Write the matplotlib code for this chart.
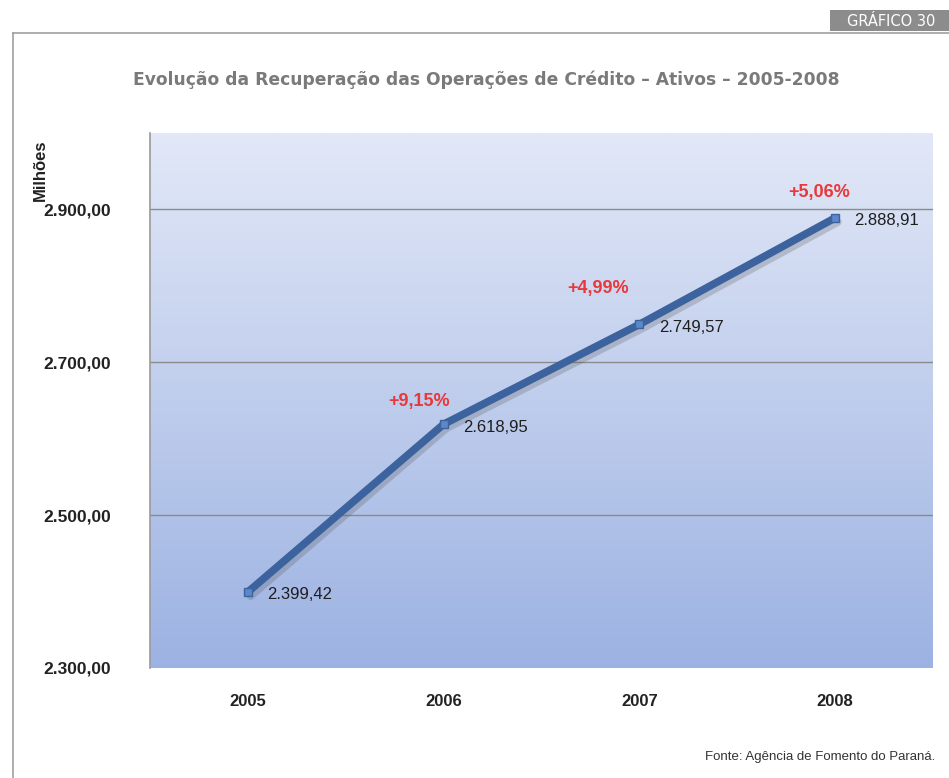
import numpy as np
import matplotlib.pyplot as plt
import matplotlib.patheffects as pe
from matplotlib.colors import LinearSegmentedColormap
from matplotlib.lines import Line2D
from matplotlib.patches import Rectangle

anos = ["2005", "2006", "2007", "2008"]
valores = [2399.42, 2618.95, 2749.57, 2888.91]
rotulos = ["2.399,42", "2.618,95", "2.749,57", "2.888,91"]
variacao = ["", "+9,15%", "+4,99%", "+5,06%"]
yticks = [2300, 2500, 2700, 2900]
ytick_labels = ["2.300,00", "2.500,00", "2.700,00", "2.900,00"]

# deslocamento (px) dos rótulos de variação em relação ao ponto
desloc_var = [(0, 0), (-25, 23), (-41, 36), (-16, 25)]

W, H = 949, 778
fig = plt.figure(figsize=(W / 100, H / 100), dpi=100)

# moldura externa
fig.add_artist(Line2D([13 / W, 1], [1 - 33 / H, 1 - 33 / H], color="#a0a0a0", lw=1.2))
fig.add_artist(Line2D([13 / W, 13 / W], [0, 1 - 33 / H], color="#a0a0a0", lw=1.2))
fig.add_artist(Rectangle((830 / W, 1 - 31 / H), (W - 830) / W, 21 / H,
                         transform=fig.transFigure, fc="#8c8c8c", ec="none"))
fig.text(891 / W, 1 - 21 / H, "GRÁFICO 30", ha="center", va="center", color="white",
         fontsize=10.5, family="DejaVu Sans")

fig.text(486 / W, 1 - 80 / H, "Evolução da Recuperação das Operações de Crédito – Ativos – 2005-2008",
         ha="center", va="center", fontsize=12.3, fontweight="bold", color="#7a7a7a")

ax = fig.add_axes([150 / W, 1 - 668 / H, (933 - 150) / W, (668 - 133) / H])
x = np.arange(len(anos))
ax.set_xlim(-0.5, 3.5)
ax.set_ylim(2300, 3000)

# fundo em degradê
cmap = LinearSegmentedColormap.from_list("fundo", ["#9cb2e2", "#e2e8f7"])
grad = np.linspace(0, 1, 256).reshape(-1, 1)
ax.imshow(grad, aspect="auto", cmap=cmap, origin="lower",
          extent=[-0.5, 3.5, 2300, 3000], zorder=0)

for yv in yticks[1:]:
    ax.axhline(yv, color="#8a8a8a", lw=1, zorder=1)

ax.plot(x, valores, color="#3c639e", lw=5.5, solid_capstyle="round", zorder=3,
        path_effects=[pe.SimpleLineShadow(offset=(2, -3), shadow_color="#555555", alpha=0.25),
                      pe.Normal()])
ax.plot(x, valores, "s", color="#5a88c8", mec="#3c639e", ms=6, zorder=4)

for xi, v, r, p, d in zip(x, valores, rotulos, variacao, desloc_var):
    ax.annotate(r, (xi, v), xytext=(14, -2), textcoords="offset points",
                ha="left", va="center", fontsize=12, color="#1e1e1e",
                family="Liberation Sans")
    if p:
        ax.annotate(p, (xi, v), xytext=(d[0] * 0.72, d[1] * 0.72), textcoords="offset points",
                    ha="center", va="center", fontsize=13, fontweight="bold",
                    color="#e8383a", family="Liberation Sans")

ax.set_xticks(x)
ax.set_xticklabels(anos, family="Liberation Sans", fontsize=12, fontweight="bold",
                   color="#222222")
ax.set_yticks(yticks)
ax.set_yticklabels(ytick_labels, family="Liberation Sans", fontsize=12.5,
                   fontweight="bold", color="#222222")
ax.tick_params(length=0, axis="both")
ax.tick_params(axis="y", pad=28)
ax.tick_params(axis="x", pad=19)
for s in ["top", "right", "bottom"]:
    ax.spines[s].set_visible(False)
ax.spines["left"].set_color("#9a9a9a")
ax.spines["left"].set_linewidth(1.2)

fig.text(40 / W, 1 - 170 / H, "Milhões", rotation=90, ha="center", va="center",
         fontsize=12, fontweight="bold", family="Liberation Sans", color="#222222")

fig.text(935 / W, 1 - 757 / H, "Fonte: Agência de Fomento do Paraná.", ha="right",
         va="center", fontsize=9.5, color="#333333", family="Liberation Sans")

fig.savefig("out.png", dpi=100)
